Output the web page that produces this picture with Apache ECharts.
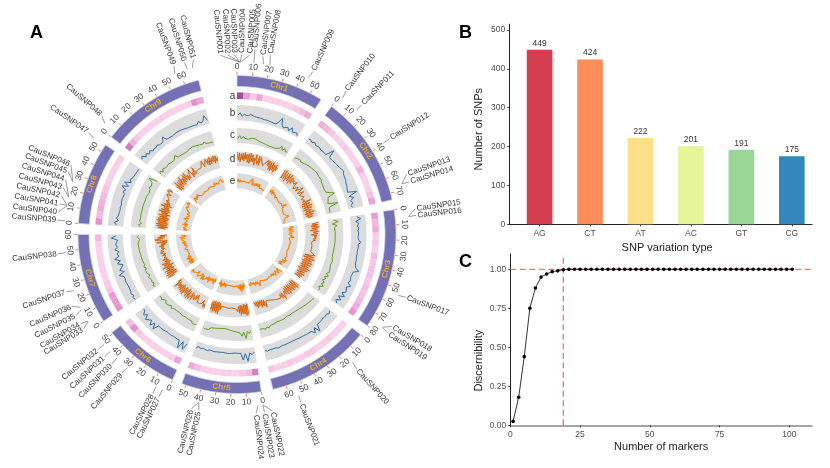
<!DOCTYPE html>
<html><head><meta charset="utf-8">
<style>html,body{margin:0;padding:0;background:#fff}#c{width:830px;height:468px;filter:blur(0.3px)}</style>
<script src="https://cdn.jsdelivr.net/npm/echarts@6/dist/echarts.min.js"></script>
</head><body><div id="c"></div>
<script>
// ---------- Data ----------
const chrNames = ['Chr1','Chr2','Chr3','Chr4','Chr5','Chr6','Chr7','Chr8','Chr9'];
const chrLengths = [58,74.5,80,69,53,51,60,55,69.5];
const snpNames = Array.from({length:51},(_,i)=>'CauSNP'+String(i+1).padStart(3,'0'));
const snpChr = [1,1,1,1,1,1,1,1,1, 2,2,2,2,2, 3,3,3,3,3, 4,4, 5,5,5,5,5, 6,6,6,6,6,6, 7,7,7,7,7,7, 8,8,8,8,8,8,8,8,8, 9,9,9,9];
const snpMb = [1.5,1.6,1.8,2,2.2,10.2,16,20,44.5, 2.5,13.6,39.3,66.2,66.4, 5.4,5.6,54,75.5,75.7, 16.2,54.5, 0.2,0.4,3.3,39.3,39.5, 3.1,7.5,28.2,36.9,42.5,48.2, 5,5.2,13.1,14.7,25.5,49.1, 0.9,10.2,10.4,10.6,15.6,15.8,25.1,25.3,54.2, 4,56.4,64.5,67.6];

const heat = [
 [100,50,25,45,20,20,20,20,20,25,32,42],
 [38,34,25,20,20,25,20,20,20,38,22,20,20,30,48],
 [50,35,42,20,25,20,32,25,30,30,25,30,30,35,42,55],
 [20,20,20,25,20,20,25,25,20,20,25,20,20,25],
 [68,32,25,20,20,20,20,20,20,30,42],
 [48,22,20,20,20,20,20,25,58,32],
 [58,52,52,28,25,20,20,20,20,20,20,35],
 [58,32,42,38,32,28,20,20,20,20,22],
 [72,40,25,20,20,20,20,20,20,20,20,20,20,58,45]
];
const trackB = [
 [35,50,28,42,35,33,45,34,33,32,30,30,28,26,27,24,24,22,20,22,40,70,28,15,13,30,12,40,15,18,25,10],
 [35,38,30,42,32,34,38,32,36,33,35,90,40,42,44,48,50,54,55,56,65,55,52,50,48,42,40,36,32,28,85,30,55,28,40,25,30],
 [45,70,35,55,42,52,45,50,48,46,50,65,48,52,50,48,50,48,50,52,50,55,60,85,52,50,48,50,55,45,70,48,42,60,38,65,30,55,28,45],
 [38,48,36,42,38,40,42,40,42,85,45,75,52,55,50,48,46,45,44,42,42,40,42,40,46,40,38,40,44,38,38,45,38,42,35],
 [32,45,34,85,35,75,30,32,30,30,32,34,34,32,30,32,32,33,35,32,30,38,32,30,38,28,40],
 [40,85,38,90,40,42,40,38,42,40,38,40,42,43,44,42,80,44,75,45,42,70,40,60,38,34],
 [42,50,38,48,42,44,40,46,42,44,40,42,70,30,55,38,25,60,35,70,38,48,35,60,40,50,45,35,75,45],
 [45,60,35,50,40,38,36,35,38,34,38,34,40,36,35,50,38,70,30,65,25,40,30,30,28,26,25,24],
 [45,60,35,50,30,45,28,35,30,38,28,26,30,55,28,26,30,25,28,30,32,30,28,26,24,22,25,22,20,18,35,20,30,60,25]
];
const trackC = [
 [30,50,28,45,32,38,30,35,40,42,38,32,28,26,24,22,20,18,17,16,18,20,18,22,30,50,25,45,28,35],
 [28,35,30,42,34,40,42,45,50,52,55,58,60,62,63,60,58,55,60,52,50,48,47,45,50,47,45,95,45,40,35,30,95,35,28,30,27],
 [40,70,30,60,42,50,45,48,44,46,45,42,45,42,44,42,43,44,42,45,43,44,50,42,45,38,50,42,55,40,60,38,50,35,55,40,60,35,50,45],
 [55,60,52,50,48,46,44,42,40,38,36,35,33,32,30,30,32,30,28,30,35,33,32,35,30,38,34,40,36,48,38,50,42,45,40],
 [36,55,40,85,42,70,48,46,40,38,34,30,28,24,22,22,24,26,28,30,32,30,35,50,45,55,50],
 [50,42,55,40,45,42,40,38,40,42,38,36,40,38,42,38,50,35,45,40,50,35,42,55,45,50],
 [35,45,30,40,34,38,45,30,42,38,45,35,48,38,45,42,50,45,52,46,48,50,46,50,48,52,60,40,55,48],
 [35,50,30,45,38,42,36,45,38,42,40,45,40,44,40,42,38,45,40,38,40,42,55,45,40,55,85,30],
 [40,55,35,50,45,40,42,45,38,40,36,38,35,60,38,36,38,36,35,38,36,40,42,44,46,44,42,40,38,36,34,45,30,36,28,34,28]
];
const trackD = [
 [95,40,90,30,85,45,90,35,95,50,85,30,90,25,95,40,88,40,70,20,95,55,30,90,25,85,75,55,45,35,50,60,72,85,45,85,25,80,20,85,30,75,20,80,40,65],
 [85,20,90,25,80,15,85,30,90,20,80,35,70,60,50,75,40,25,35,60,30,40,85,30,45,75,35,25,40,60,30,20,50,30,90,20,75,15,85,20,80,15,70,25,85,15,75,20,65,30],
 [95,50,90,40,95,45,85,35,90,55,85,40,80,60,75,55,70,50,60,45,55,50,60,45,50,40,45,50,55,45,85,15,80,10,90,20,75,10,85,15,80,10,70,15,85,5,75,15,65,10,70,15,60,10,55],
 [80,15,85,10,75,20,80,15,70,15,80,10,75,20,65,30,40,85,30,70,35,60,50,60,55,45,50,40,45,40,42,35,38,30,30,32,28,70,15,55,10,60,10,45,10,55,10,40,15,10],
 [85,10,90,15,80,10,75,20,85,15,70,25,60,45,35,40,38,35,38,36,35,42,40,35,40,38,36,30,35,45,30,35,60,15,90,10,85,15,80,10,85,15,75,20],
 [85,55,80,35,60,75,70,72,68,70,60,20,60,30,70,75,35,80,25,70,85,30,90,20,85,30,70,25,90,35,85,25,80,35,75,40,65,30,85,20,45],
 [40,85,15,90,10,80,20,85,15,70,25,90,10,75,30,85,20,60,30,70,35,55,65,40,60,35,50,70,45,65,50,35,60,40,70,30,55,15,85,10,70,95,40,75,25,60,10],
 [20,75,10,85,15,90,10,80,20,90,15,85,10,75,25,85,10,70,25,90,15,80,20,65,30,90,15,75,30,60,40,70,50,45,60,55,65,85,55,75,85,95,60,90],
 [60,15,85,10,75,20,80,25,90,20,70,30,85,35,90,25,65,30,55,70,90,20,55,30,85,30,45,40,45,50,45,55,50,60,55,90,45,30,75,90,50,85,40,95,45,85,55,95,40,90,50,80]
];
const trackE = [
 [45,65,40,60,45,55,50,52,48,50,45,52,48,46,50,46,80,35,55,70,35,58,42,60,38,62,36,50,30,40,36,42,32],
 [70,50,78,45,72,55,48,60,42,55,50,55,48,58,52,44,50,55,50,46,80,42,50,44,36,46,40,32,42,28,46,62,32,22,35,18,26,14],
 [50,75,40,68,38,72,44,62,38,62,48,75,42,55,48,50,48,55,50,48,48,50,48,50,50,46,44,48,44,48,50,55,48,55,48,50,68,38,62,40,25,55,28],
 [80,38,55,75,40,48,70,44,60,40,55,50,44,50,44,55,42,50,38,46,40,44,36,26,70,36,50,32,55,28,44,55,25,50,32],
 [48,20,62,32,80,25,68,28,55,36,44,48,40,46,44,42,44,40,38,42,40,36,42,40,36,55,28,48,24,50,32,60,16,46,32],
 [42,20,60,25,45,28,48,32,68,28,55,40,55,48,72,44,78,36,55,64,50,78,40,60,50,68,55,78,62,82],
 [32,60,28,64,25,55,36,68,32,52,60,36,48,44,40,52,44,36,55,48,44,52,32,55,48,36,64,44,36,55,68,40,78,48,32,64],
 [28,52,32,55,44,60,32,64,28,52,40,55,36,48,64,32,52,40,60,32,52,68,36,48,60,52,64,78,64,55,72,88,68,82],
 [36,55,70,44,64,52,72,55,48,44,52,48,44,48,52,48,48,44,52,55,52,52,55,60,52,48,72,52,64,55,52,68,55,78,52,64]
];
const snpTypes = ['AG','CT','AT','AC','GT','CG'];
const snpCounts = [449,424,222,201,191,175];
const markerCounts = [1,3,5,7,9,11,13,15,17,19,21,23,25,27,29,31,33,35,37,39,41,43,45,47,49,51,53,55,57,59,61,63,65,67,69,71,73,75,77,79,81,83,85,87,89,91,93,95,97,99,101];
const discernibility = [0.025,0.18,0.44,0.75,0.88,0.95,0.97,0.985,0.99,0.997,1,1,1,1,1,1,1,1,1,1,1,1,1,1,1,1,1,1,1,1,1,1,1,1,1,1,1,1,1,1,1,1,1,1,1,1,1,1,1,1,1];

// ---------- Layout (not data) ----------
const chrStartAngle = [0,36.4,81,129,171.2,203.9,237,274,307.8];
const degPerMb = 0.55;
const labelAngle = [354.7,357,359.1,1.5,4.1,5.5,8.3,10.5,25,37.2,43.9,57.9,70.5,73,81.8,83.9,110.4,120.7,123.2,138.3,159.2,168.6,171.2,173.9,192.2,194.6,205.7,207.9,219.7,224,227.3,230.4,238.4,240.3,243.3,246.4,251.4,263.8,274.6,277.1,279.8,282.5,285.1,287.8,290.4,292.7,304.5,311.3,339.5,343,346];
const labelRadiusOverride = {5:187.5,7:184};
const R = {ring:[148,159],a:[135.5,142],b:[114,129.5],c:[91.5,106.5],d:[68.5,83],e:[46,61]};
const theta = (c,mb)=>chrStartAngle[c]+mb*degPerMb;
const FF = '"Liberation Sans",Arial,sans-serif';

function band(api,r0,r1,a0,a1,style){
  const pts=[], n=Math.max(2,Math.ceil((a1-a0)/0.5));
  for(let i=0;i<=n;i++){const p=api.coord([r1,a0+(a1-a0)*i/n]);pts.push([p[0],p[1]]);}
  for(let i=n;i>=0;i--){const p=api.coord([r0,a0+(a1-a0)*i/n]);pts.push([p[0],p[1]]);}
  return {type:'polygon',shape:{points:pts},style};
}
function seg(api,r0,a0,r1,a1,color,w){
  const p=api.coord([r0,a0]),q=api.coord([r1,a1]);
  return {type:'line',shape:{x1:p[0],y1:p[1],x2:q[0],y2:q[1]},style:{stroke:color,lineWidth:w}};
}
function niceRot(a){const t=((a%360)+360)%360;return (t>90&&t<270)?t-180:t;}
function txt(api,r,a,rot,text,font,fill,align){
  const p=api.coord([r,a]);
  return {type:'text',x:p[0],y:p[1],rotation:-rot*Math.PI/180,
    style:{x:0,y:0,text,font,fill,align:align||'center',verticalAlign:'middle'}};
}
const custom = (data,renderItem,z)=>({type:'custom',coordinateSystem:'polar',polarIndex:0,data,renderItem,z:z||2,silent:true,animation:false,clip:false});
const chrRows = chrNames.map((c,i)=>[R.ring[0],theta(i,0),i]);

const series = [];
// grey bands
series.push(custom(chrRows,(p,api)=>{
  const i=api.value(2),a0=theta(i,0),a1=theta(i,chrLengths[i]);
  return {type:'group',children:['b','c','d','e'].map(k=>band(api,R[k][0],R[k][1],a0,a1,{fill:'#dcdcdc'}))};
},1));
// outer ring, chromosome names, ticks and tick labels
series.push(custom(chrRows,(p,api)=>{
  const i=api.value(2),a0=theta(i,0),a1=theta(i,chrLengths[i]),ch=[];
  ch.push(band(api,R.ring[0],R.ring[1],a0,a1,{fill:'#7570b3',stroke:'#c6d6ee',lineWidth:0.8}));
  for(let m=0;m<=chrLengths[i];m+=10){
    const a=theta(i,m);
    ch.push(seg(api,159.5,a,162.5,a,'#f47c7c',1));
    ch.push(txt(api,168,a,niceRot(a),String(m),'8.5px '+FF,'#444'));
  }
  const mid=(a0+a1)/2;
  ch.push(txt(api,153.5,mid,niceRot(mid),chrNames[i],'bold 8px '+FF,'#e6ad2c'));
  return {type:'group',children:ch};
},3));
// heat track a
series.push(custom(chrRows,(p,api)=>{
  const i=api.value(2),ch=[],v=heat[i],step=chrLengths[i]/v.length;
  v.forEach((x,j)=>{
    const col=echarts.color.lerp(Math.max(0,(x-20)/80),['#fad0e8','#e48fcb','#a04aa6']);
    ch.push(band(api,R.a[0],R.a[1],theta(i,j*step),theta(i,(j+1)*step),{fill:col}));
  });
  return {type:'group',children:ch};
},3));
// line tracks
[[trackB,'b','#2f6fb2',1],[trackC,'c','#5fa315',1],[trackD,'d','#d95f02',1],[trackE,'e','#ff7f00',1.1]].forEach(([tr,k,color,width])=>{
  tr.forEach((vals,i)=>{
    const step=chrLengths[i]/vals.length;
    series.push({type:'line',coordinateSystem:'polar',polarIndex:0,showSymbol:false,silent:true,animation:false,z:4,
      lineStyle:{color,width},
      data:vals.map((v,j)=>[R[k][0]+(R[k][1]-R[k][0])*v/100,theta(i,(j+0.5)*step)])});
  });
});
// SNP labels
series.push(custom(snpNames.map((n,i)=>[172,theta(snpChr[i]-1,snpMb[i]),i]),(p,api)=>{
  const i=api.value(2),near=api.value(1),la=labelAngle[i],right=la<180;
  const lr=labelRadiusOverride[i]||181.5;
  return {type:'group',children:[
    seg(api,172.5,near,lr-1.5,la,'#555',0.6),
    txt(api,lr,la,right?la-90:la-270,snpNames[i],'8px '+FF,'#333',right?'left':'right')
  ]};
},5));
// track letters
series.push(custom(['a','b','c','d','e'].map((k,i)=>[(R[k][0]+R[k][1])/2,0,i]),(p,api)=>{
  const i=api.value(2),q=api.coord([api.value(0),0]);
  return {type:'text',x:q[0]-4.5,y:q[1],style:{text:'abcde'[i],font:'10px '+FF,fill:'#333',align:'center',verticalAlign:'middle'}};
},5));

// panel B
const axisTxt={color:'#4d4d4d',fontSize:8.5,fontFamily:FF};
const nameTxt={color:'#222',fontSize:11,fontFamily:FF};
series.push({type:'bar',xAxisIndex:0,yAxisIndex:0,barWidth:25.6,animation:false,silent:true,
  label:{show:true,position:'top',distance:2,fontSize:8.5,color:'#333',fontFamily:FF,formatter:p=>p.value[1]},
  data:snpTypes.map((t,i)=>({value:[i,snpCounts[i]],itemStyle:{color:['#d53e4f','#fc8d59','#fee08b','#e6f598','#99d594','#3288bd'][i]}}))});
// panel C
const dash={color:'#ff7070',width:1.3,type:[6,3.5]};
series.push({type:'line',xAxisIndex:1,yAxisIndex:1,showSymbol:false,silent:true,animation:false,lineStyle:dash,data:[[0,1],[108,1]],z:1});
series.push({type:'line',xAxisIndex:1,yAxisIndex:1,showSymbol:false,silent:true,animation:false,lineStyle:dash,data:[[19,0],[19,1.098]],z:1});
series.push({type:'line',xAxisIndex:1,yAxisIndex:1,symbol:'circle',symbolSize:3.6,showSymbol:true,showAllSymbol:true,silent:true,animation:false,
  lineStyle:{color:'#000',width:0.8},itemStyle:{color:'#000'},data:markerCounts.map((m,i)=>[m,discernibility[i]]),z:3});

const letter={fontSize:18,fontWeight:'bold',color:'#000',fontFamily:FF};
const option={
  animation:false,backgroundColor:'#fff',
  title:[
    {text:'A',left:25,top:19,textStyle:letter},
    {text:'B',left:454,top:19,textStyle:letter},
    {text:'C',left:454,top:248,textStyle:letter}
  ],
  polar:{center:[237,234.5],radius:[0,240]},
  radiusAxis:{type:'value',min:0,max:240,show:false},
  angleAxis:{type:'value',min:0,max:360,startAngle:90,clockwise:true,show:false},
  grid:[
    {left:509.3,right:18,top:24.2,height:200.1,containLabel:false},
    {left:510.3,right:18,top:254,height:171.3,containLabel:false}
  ],
  xAxis:[
    {gridIndex:0,type:'value',min:-0.6,max:5.4,splitLine:{show:false},
     axisLine:{show:true,onZero:false,lineStyle:{color:'#222',width:1}},
     axisTick:{show:true,length:2,customValues:[0,1,2,3,4,5],lineStyle:{color:'#333'}},
     axisLabel:{...axisTxt,margin:5,customValues:[0,1,2,3,4,5],formatter:v=>snpTypes[v]},
     name:'SNP variation type',nameLocation:'middle',nameGap:18,nameTextStyle:{...nameTxt,padding:[0,0,0,13]}},
    {gridIndex:1,type:'value',min:0,max:108.1,interval:25,splitLine:{show:false},
     axisLine:{show:true,onZero:false,lineStyle:{color:'#888',width:1.5}},
     axisTick:{show:true,length:2,lineStyle:{color:'#333'}},
     axisLabel:{...axisTxt,margin:5,showMaxLabel:false},
     name:'Number of markers',nameLocation:'middle',nameGap:16,nameTextStyle:nameTxt}
  ],
  yAxis:[
    {gridIndex:0,type:'value',min:0,max:515,interval:100,splitLine:{show:false},
     axisLine:{show:true,onZero:false,lineStyle:{color:'#222',width:1}},
     axisTick:{show:true,length:2,lineStyle:{color:'#333'}},axisLabel:{...axisTxt,margin:4,showMaxLabel:false},
     name:'Number of SNPs',nameLocation:'middle',nameGap:25,nameTextStyle:{...nameTxt,padding:[0,10,0,0]}},
    {gridIndex:1,type:'value',min:0,max:1.098,interval:0.25,splitLine:{show:false},
     axisLine:{show:true,onZero:false,lineStyle:{color:'#222',width:1}},
     axisTick:{show:true,length:2,lineStyle:{color:'#333'}},
     axisLabel:{...axisTxt,margin:4,showMaxLabel:false,formatter:v=>v.toFixed(2)},
     name:'Discernibility',nameLocation:'middle',nameGap:26,nameTextStyle:{...nameTxt,padding:[0,42,0,0]}}
  ],
  series
};
const chart=echarts.init(document.getElementById('c'),null,{renderer:'canvas'});
chart.setOption(option);
</script></body></html>
